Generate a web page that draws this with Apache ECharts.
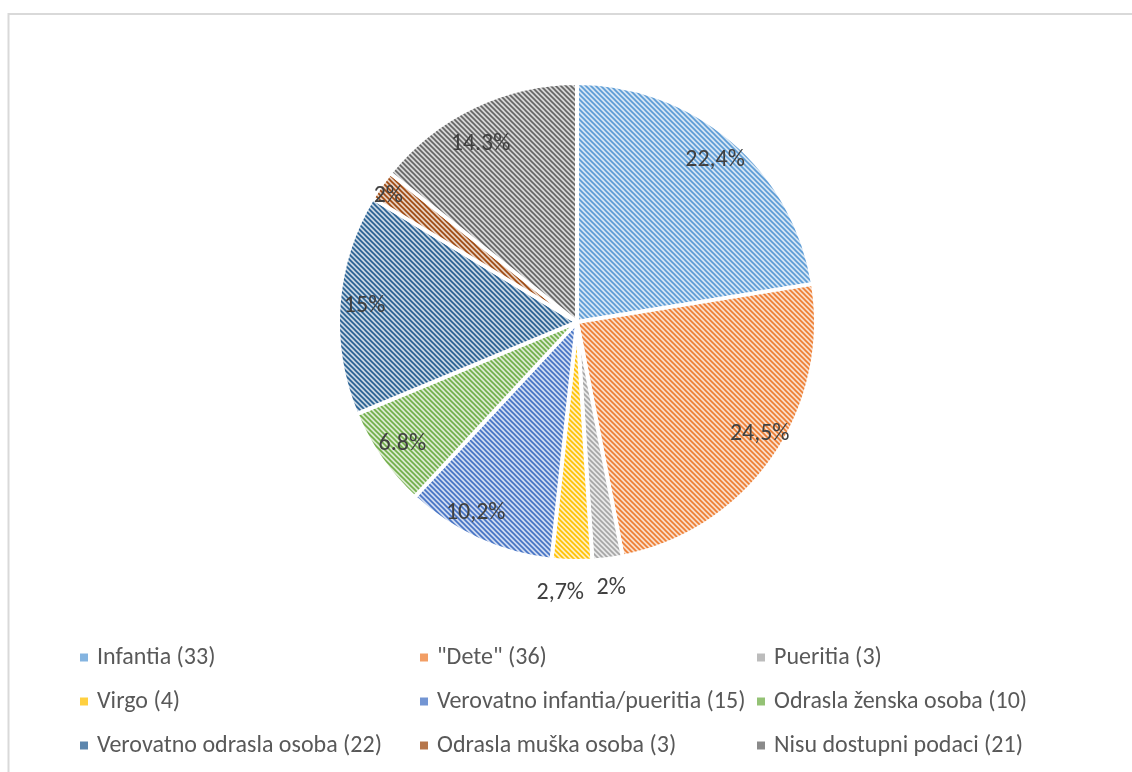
<!DOCTYPE html>
<html>
<head>
<meta charset="utf-8">
<script src="https://cdn.jsdelivr.net/npm/echarts@6/dist/echarts.min.js"></script>
<style>
html,body{margin:0;padding:0;background:#fff;}
#c{width:1132px;height:772px;}
</style>
</head>
<body>
<div id="c"></div>
<script>
// ---- data ----
const categories = ['Infantia (33)', '"Dete" (36)', 'Pueritia (3)', 'Virgo (4)', 'Verovatno infantia/pueritia (15)', 'Odrasla ženska osoba (10)', 'Verovatno odrasla osoba (22)', 'Odrasla muška osoba (3)', 'Nisu dostupni podaci (21)'];
const values = [33, 36, 3, 4, 15, 10, 22, 3, 21];
const pctLabels = ['22,4%', '24,5%', '2%', '2,7%', '10,2%', '6.8%', '15%', '2%', '14.3%'];

// ---- style ----
const baseColors = ['#5B9BD5', '#ED7D31', '#A5A5A5', '#FFC000', '#4472C4', '#70AD47', '#255E91', '#9E480E', '#636363'];
const FONT = 'Carlito, Calibri, Lato, "Open Sans", sans-serif';

function mix(hex, t) {
  const n = parseInt(hex.slice(1), 16);
  const r = (n >> 16) & 255, g = (n >> 8) & 255, b = n & 255;
  const f = v => Math.round(v + (255 - v) * t);
  return 'rgb(' + f(r) + ',' + f(g) + ',' + f(b) + ')';
}
function makePattern(base) {
  const T = 5;
  const c = document.createElement('canvas');
  c.width = T; c.height = T;
  const ctx = c.getContext('2d');
  ctx.fillStyle = mix(base, 0.74);
  ctx.fillRect(0, 0, T, T);
  ctx.strokeStyle = base;
  ctx.lineWidth = 1.6;
  ctx.beginPath();
  for (let k = -1; k <= 1; k++) {
    ctx.moveTo(k * T - 1, -1);
    ctx.lineTo(k * T + T + 1, T + 1);
  }
  ctx.stroke();
  return { image: c, repeat: 'repeat' };
}

const patterns = baseColors.map(makePattern);
const outerIdx = [2, 3];
const labelOffsets = { 1: [8, -10], 4: [-13, -3], 7: [-14, -4], 8: [-4, 14] };

const mainData = categories.map((n, i) => ({ name: n, value: values[i], itemStyle: { color: patterns[i] } }));
const innerLabelData = categories.map((n, i) => ({
  name: n, value: values[i],
  label: { show: outerIdx.indexOf(i) < 0, formatter: pctLabels[i], offset: labelOffsets[i] || [0, 0] }
}));
const outerLabelData = categories.map((n, i) => ({
  name: n, value: values[i],
  label: { show: outerIdx.indexOf(i) >= 0, formatter: pctLabels[i], offset: i === 3 ? [-11, 3] : [0, 0] }
}));

const center = [577, 322];
const labelText = { color: '#404040', fontSize: 24, fontFamily: FONT };
const transparentItem = { color: 'rgba(0,0,0,0)', borderWidth: 0 };

const legendCols = [[0, 3, 6], [1, 4, 7], [2, 5, 8]];
const legendLeft = [80, 420, 757];
const legends = legendCols.map((col, ci) => ({
  orient: 'vertical',
  left: legendLeft[ci],
  top: 645,
  padding: 0,
  itemWidth: 8,
  itemHeight: 8,
  itemGap: 19,
  selectedMode: false,
  icon: 'rect',
  data: col.map(i => ({ name: categories[i], itemStyle: { color: mix(baseColors[i], 0.25), borderWidth: 0 } })),
  textStyle: { color: '#595959', fontSize: 24, fontFamily: FONT, padding: [0, 0, 0, 4], lineHeight: 25 }
}));

const chart = echarts.init(document.getElementById('c'), null, { renderer: 'canvas' });
chart.setOption({
  animation: false,
  backgroundColor: '#fff',
  legend: legends,
  graphic: [{
    type: 'rect', silent: true,
    shape: { x: 8.5, y: 14, width: 1300, height: 900 },
    style: { fill: 'none', stroke: '#d9d9d9', lineWidth: 2 }
  }],
  series: [
    {
      type: 'pie', center: center, radius: [0, 239], startAngle: 90, clockwise: true,
      silent: true, data: mainData,
      itemStyle: { borderColor: '#fff', borderWidth: 4 },
      label: { show: false }, labelLine: { show: false },
      emphasis: { disabled: true }
    },
    {
      type: 'pie', center: center, radius: [181, 239], startAngle: 90, clockwise: true,
      silent: true, data: innerLabelData,
      itemStyle: transparentItem,
      label: Object.assign({ position: 'inside' }, labelText), labelLine: { show: false },
      emphasis: { disabled: true }
    },
    {
      type: 'pie', center: center, radius: [250, 280], startAngle: 90, clockwise: true,
      silent: true, data: outerLabelData,
      itemStyle: transparentItem,
      label: Object.assign({ position: 'inside' }, labelText), labelLine: { show: false },
      emphasis: { disabled: true }
    }
  ]
});
</script>
</body>
</html>
